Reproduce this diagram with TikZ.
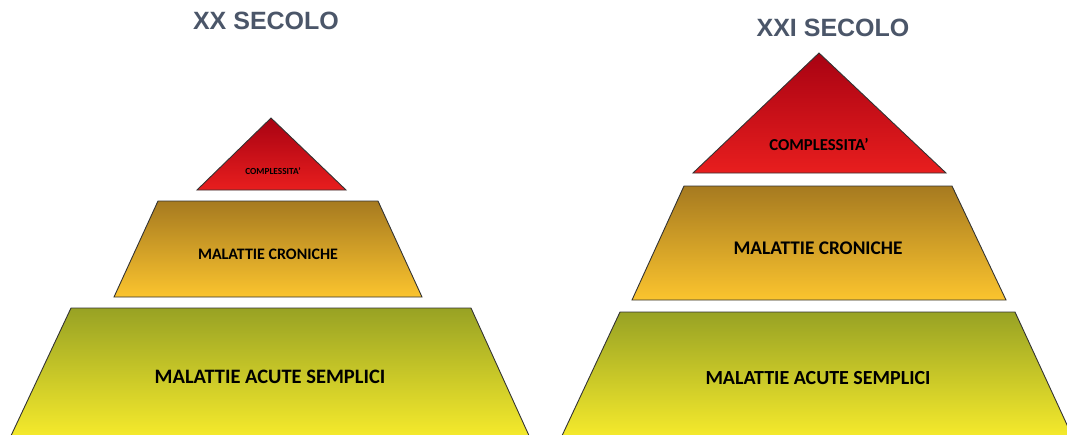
\documentclass[tikz,border=0pt]{standalone}
\usepackage{fontspec}
\setmainfont{Carlito}
\newfontfamily\titlefont{Liberation Sans}
\definecolor{titlegray}{RGB}{75,86,105}
\definecolor{redtop}{RGB}{168,2,18}
\definecolor{redbot}{RGB}{232,30,30}
\definecolor{goldtop}{RGB}{166,122,32}
\definecolor{goldbot}{RGB}{251,196,46}
\definecolor{limetop}{RGB}{152,162,36}
\definecolor{limebot}{RGB}{248,236,44}

\begin{document}
\begin{tikzpicture}[x=1pt,y=-1pt,
  layer/.style={draw=black!80,line width=0.9pt,line join=miter},
  title/.style={font=\titlefont\bfseries\fontsize{25}{25}\selectfont,text=titlegray},
  lbl/.style={font=\bfseries,text=black}]

  \clip (0,0) rectangle (1067,434);

  % XX secolo
  \node[title] (titleA) at (266,21) {XX SECOLO};
  \shadedraw[layer,top color=redtop,bottom color=redbot]   (271,118) -- (346,190) -- (197,190) -- cycle;          % complessita'
  \shadedraw[layer,top color=goldtop,bottom color=goldbot] (158,201) -- (378,201) -- (422,297) -- (114,297) -- cycle; % croniche
  \shadedraw[layer,top color=limetop,bottom color=limebot] (71,308)  -- (471,308) -- (531,440) -- (9,440) -- cycle;    % acute
  \node[lbl,font=\bfseries\fontsize{9.3}{9.3}\selectfont] (topA)  at (273,171) {COMPLESSITA'};
  \node[lbl,font=\bfseries\fontsize{16}{16}\selectfont]   (midA)  at (268,254) {MALATTIE CRONICHE};
  \node[lbl,font=\bfseries\fontsize{20.5}{20.5}\selectfont] (baseA) at (270,377) {MALATTIE ACUTE SEMPLICI};

  % XXI secolo
  \node[title] (titleB) at (833,28) {XXI SECOLO};
  \shadedraw[layer,top color=redtop,bottom color=redbot]   (819,53)  -- (946,173) -- (693,173) -- cycle;          % complessita'
  \shadedraw[layer,top color=goldtop,bottom color=goldbot] (684,186) -- (952,186) -- (1006,300) -- (632,300) -- cycle; % croniche
  \shadedraw[layer,top color=limetop,bottom color=limebot] (620,312) -- (1015,312) -- (1074,440) -- (560,440) -- cycle; % acute
  \node[lbl,font=\bfseries\fontsize{16.7}{16.7}\selectfont] (topB)  at (819,144) {COMPLESSITA'};
  \node[lbl,font=\bfseries\fontsize{19.3}{19.3}\selectfont] (midB)  at (818,248) {MALATTIE CRONICHE};
  \node[lbl,font=\bfseries\fontsize{20}{20}\selectfont]     (baseB) at (818,378) {MALATTIE ACUTE SEMPLICI};

\end{tikzpicture}
\end{document}
